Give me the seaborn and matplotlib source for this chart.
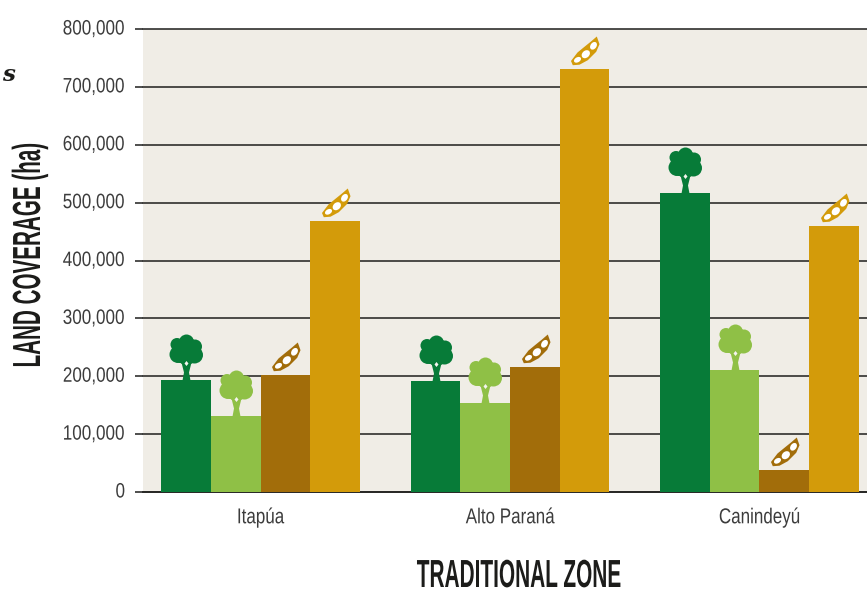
import matplotlib
matplotlib.use("Agg")
import matplotlib.pyplot as plt
import numpy as np
import pandas as pd
import seaborn as sns
from matplotlib.path import Path
from matplotlib.patheffects import AbstractPathEffect
from matplotlib.ticker import FuncFormatter
from matplotlib.transforms import Affine2D

zones = ["Itapúa", "Alto Paraná", "Canindeyú"]
land_types = ["Forest", "Regrowth", "Soy A", "Soy B"]
forest = [193500, 192000, 516000]
regrowth = [131000, 154000, 211000]
soy_a = [202000, 216000, 38000]
soy_b = [468000, 731000, 460000]
y_ticks = [0, 100000, 200000, 300000, 400000, 500000, 600000, 700000, 800000]
colors = ["#077b38", "#8fc046", "#a26d0a", "#d39b0a"]
DPI = 100

sns.set_theme(style="white")
plt.rcParams["font.family"] = ["Liberation Sans", "DejaVu Sans"]


class Stretch(AbstractPathEffect):
    """Scale glyphs in the text's own frame, keeping the text's alignment point."""
    def __init__(self, sx=1.0, sy=1.0, keep=0.0, dx=0.0, dy=0.0):
        super().__init__()
        self.sx, self.sy, self.keep, self.dx, self.dy = sx, sy, keep, dx, dy

    def draw_path(self, renderer, gc, tpath, affine, rgbFace=None):
        w = tpath.get_extents().x1
        local = Affine2D().scale(self.sx, self.sy).translate((1 - self.sx) * w * self.keep, 0)
        renderer.draw_path(gc, tpath, local + affine + Affine2D().translate(self.dx, self.dy), rgbFace)


def merge(paths):
    return Path.make_compound_path(*paths)


def ell(cx, cy, a, b=None, ang=0):
    b = a if b is None else b
    return Path.unit_circle().transformed(Affine2D().scale(a, b).rotate_deg(ang).translate(cx, cy))


# Icon shapes, in pixels relative to the middle of a bar's top edge
TREE = merge([
    ell(0, 38.5, 7.5), ell(-9.5, 36, 6.5), ell(8.5, 34, 7), ell(-8.5, 26, 8.5),
    ell(8, 25.5, 8.5), ell(0, 29, 13), ell(0, 25.5, 9.5),
    Path([(-4, 0), (4, 0), (2.5, 8), (5, 18), (-5, 18), (-2.5, 8), (-4, 0)]),
])
TREE_HOLE = Path([(0, 14.5), (2, 17), (0, 19.5), (-2, 17), (0, 14.5)])
POD = Path([(-13.5, 8.5), (-7, 17), (-0.3, 22.5), (6.5, 28), (12.3, 33),
            (15, 25.3), (11.7, 17.7), (3.3, 9.3), (-5, 4.8), (-11.7, 4.3), (-13.5, 8.5)])
SEEDS = merge([ell(9, 23.7, 4.2, 3, 55), ell(1.3, 15.3, 4.6, 3.5, 42), ell(-7, 9.7, 3.8, 2.5, 30)])


def stamp(ax, x, y, path, color, z=5):
    s = (2 * np.abs(path.vertices).max() * 72 / DPI) ** 2
    ax.scatter([x], [y], marker=path, s=s, color=color, linewidths=0, zorder=z, clip_on=False)


df = pd.DataFrame({
    "zone": zones * 4,
    "type": np.repeat(land_types, 3),
    "ha": forest + regrowth + soy_a + soy_b,
})

fig = plt.figure(figsize=(8.67, 5.90), dpi=DPI, facecolor="white")
ax = fig.add_axes([143 / 867, (590 - 492) / 590, 724 / 867, 463 / 590], facecolor="#f0ede6")

sns.barplot(data=df, x="zone", y="ha", hue="type", order=zones, hue_order=land_types,
            palette=colors, saturation=1, width=0.795, gap=0, legend=False, ax=ax, zorder=3,
            edgecolor="none", linewidth=0)

for i, container in enumerate(ax.containers):
    for bar in container:
        cx = bar.get_x() + bar.get_width() / 2
        top = bar.get_height()
        if i < 2:
            stamp(ax, cx, top, TREE, colors[i])
            stamp(ax, cx, top, TREE_HOLE, "#f4f4ee", 6)
        else:
            stamp(ax, cx, top, POD, colors[i])
            stamp(ax, cx, top, SEEDS, "white", 6)

ax.set_xlim(-0.471, 2.431)
ax.set_ylim(0, 800000)
ax.set_yticks(y_ticks)
ax.yaxis.set_major_formatter(FuncFormatter(lambda v, _: f"{int(v):,}"))
ax.grid(axis="y", color="#1e1e1c", lw=1.1, zorder=1)
ax.set_axisbelow(True)
for g in ax.get_ygridlines():
    g.set_clip_on(False)
ax.tick_params(axis="y", length=5.8, width=1.1, color="#1e1e1c", pad=8, labelsize=15, labelcolor="#3c3c3c", left=True)
ax.tick_params(axis="x", length=0, pad=11, labelsize=15.5, labelcolor="#3c3c3c")
for lab in ax.get_yticklabels():
    lab.set_path_effects([Stretch(0.82, 1.0, keep=1.0, dx=1.5, dy=2)])
for lab in ax.get_xticklabels():
    lab.set_path_effects([Stretch(0.79, 1.0, keep=0.5)])
ax.set_xlabel("")
ax.set_ylabel("")
for side in ["top", "right", "left"]:
    ax.spines[side].set_visible(False)
ax.spines["bottom"].set_color("#1e1e1c")
ax.spines["bottom"].set_linewidth(1.1)

t1 = fig.text(519 / 867, 1 - 584 / 590, "TRADITIONAL ZONE", ha="center", va="baseline",
              fontsize=15, fontweight="bold", color="#1c1c1a")
t1.set_path_effects([Stretch(1.0, 1.88, keep=0.5, dy=-3)])
t2 = fig.text(40 / 867, 1 - 255 / 590, "LAND COVERAGE (ha)", ha="center", va="baseline",
              rotation=90, rotation_mode="anchor", fontsize=15, fontweight="bold", color="#1c1c1a")
t2.set_path_effects([Stretch(0.99, 1.88, keep=0.5)])
fig.text(14.5 / 867, 1 - 81 / 590, "s", ha="right", va="baseline", fontsize=16.5,
         fontweight="bold", fontstyle="italic", family=["DejaVu Serif"], color="#1c1c1a")

fig.savefig("out.png", dpi=DPI)
